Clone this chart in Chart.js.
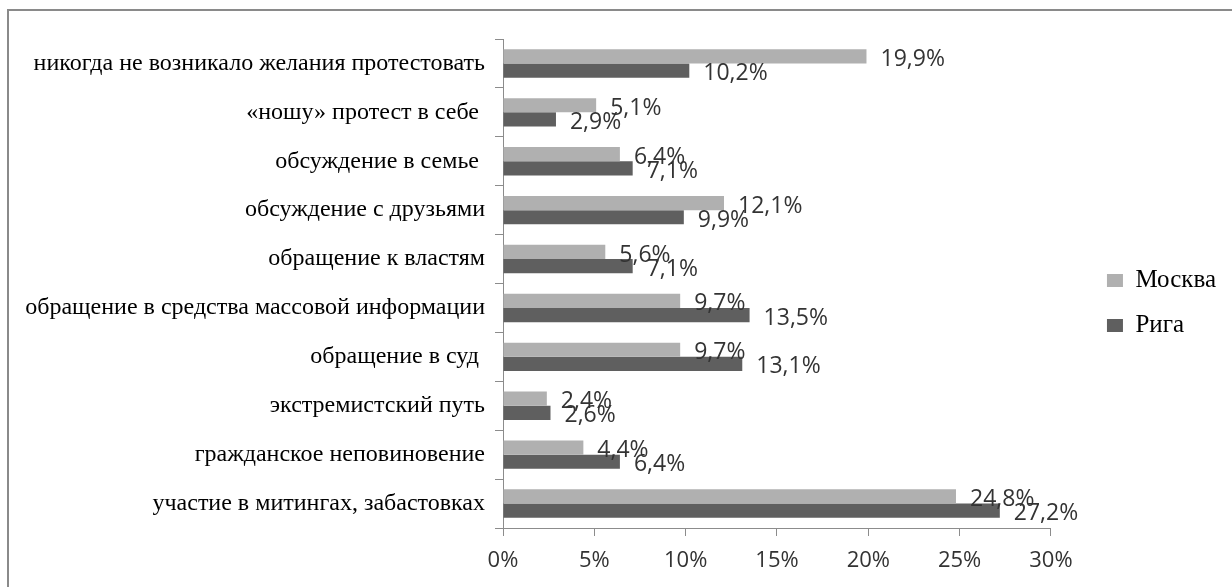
<!DOCTYPE html>
<html lang="ru">
<head>
<meta charset="utf-8">
<title>Протест</title>
<script src="https://cdn.jsdelivr.net/npm/chart.js@4/dist/chart.umd.min.js"></script>
<style>
  html, body { margin: 0; padding: 0; background: #fff; overflow: hidden; }
  #moldura { position: absolute; left: 7px; top: 9px; width: 1400px; height: 800px; border: 2px solid #8a8a8a; }
  #area { position: absolute; left: 0; top: 0; width: 1232px; height: 587px; }
</style>
</head>
<body>
<div id="moldura"></div>
<div id="area"><canvas id="grafico" width="1232" height="587"></canvas></div>
<script>
// dados (de cima para baixo)
const categorias = [
    'никогда не возникало желания протестовать',
    '«ношу» протест в себе ',
    'обсуждение в семье ',
    'обсуждение с друзьями',
    'обращение к властям',
    'обращение в средства массовой информации',
    'обращение в суд ',
    'экстремистский путь',
    'гражданское неповиновение',
    'участие в митингах, забастовках'
];
const moskva = [19.9, 5.1, 6.4, 12.1, 5.6, 9.7, 9.7, 2.4, 4.4, 24.8];
const riga = [10.2, 2.9, 7.1, 9.9, 7.1, 13.5, 13.1, 2.6, 6.4, 27.2];
const ticksX = [0, 5, 10, 15, 20, 25, 30];

document.addEventListener('DOMContentLoaded', function() {
    const canvas = document.getElementById('grafico');
    if (!canvas) {
        console.error('Elemento canvas não encontrado.');
        return;
    }
    const ctx = canvas.getContext('2d');

    // rótulos de valor ao lado das barras
    const rotulos = {
        id: 'rotulos',
        afterDatasetsDraw(chart) {
            const c = chart.ctx;
            c.save();
            c.font = '23px "Open Sans"';
            c.fillStyle = '#333333';
            c.textAlign = 'left';
            c.textBaseline = 'middle';
            chart.data.datasets.forEach((ds, i) => {
                chart.getDatasetMeta(i).data.forEach((bar, j) => {
                    const txt = ds.data[j].toFixed(1).replace('.', ',') + '%';
                    c.fillText(txt, bar.x + 14, bar.y + 3);
                });
            });
            c.restore();
        }
    };

    // empurra a legenda um pouco para a direita/cima
    const ajusteLegenda = {
        id: 'ajusteLegenda',
        afterLayout(chart) {
            const lg = chart.legend;
            if (!lg) return;
            lg.left += 36;
            lg.right += 36;
            lg.top -= 10;
            lg.bottom -= 10;
        }
    };

    const data = {
        labels: categorias,
        datasets: [{
            label: 'Москва',
            data: moskva,
            backgroundColor: '#b0b0b0',
            borderWidth: 0,
            categoryPercentage: 0.58,
            barPercentage: 1.0
        }, {
            label: 'Рига',
            data: riga,
            backgroundColor: '#5f5f5f',
            borderWidth: 0,
            categoryPercentage: 0.58,
            barPercentage: 1.0
        }]
    };

    const options = {
        indexAxis: 'y',
        responsive: false,
        animation: false,
        devicePixelRatio: 1,
        layout: {
            padding: { left: 0, top: 39, right: 42, bottom: 0 }
        },
        scales: {
            x: {
                min: 0,
                max: 30,
                afterBuildTicks: s => { s.ticks = ticksX.map(v => ({ value: v })); },
                afterFit: s => { s.height = 59; },
                ticks: {
                    callback: v => v + '%',
                    font: { family: '"Open Sans"', size: 22 },
                    color: '#333333',
                    padding: 12,
                    maxRotation: 0
                },
                grid: { drawOnChartArea: false, tickLength: 8, color: '#8c8c8c' },
                border: { color: '#8c8c8c' }
            },
            y: {
                afterFit: s => { s.width = 503; },
                ticks: {
                    font: { family: '"Liberation Serif"', size: 24 },
                    color: '#000000',
                    padding: 10
                },
                grid: { drawOnChartArea: false, tickLength: 8, color: '#8c8c8c' },
                border: { color: '#8c8c8c' }
            }
        },
        plugins: {
            legend: {
                position: 'right',
                labels: {
                    boxWidth: 16,
                    boxHeight: 13,
                    padding: 20,
                    color: '#000000',
                    font: { family: '"Liberation Serif"', size: 25 }
                }
            },
            tooltip: { enabled: false }
        }
    };

    const meuGrafico = new Chart(ctx, {
        type: 'bar',
        data: data,
        options: options,
        plugins: [rotulos, ajusteLegenda]
    });
});
</script>
</body>
</html>
